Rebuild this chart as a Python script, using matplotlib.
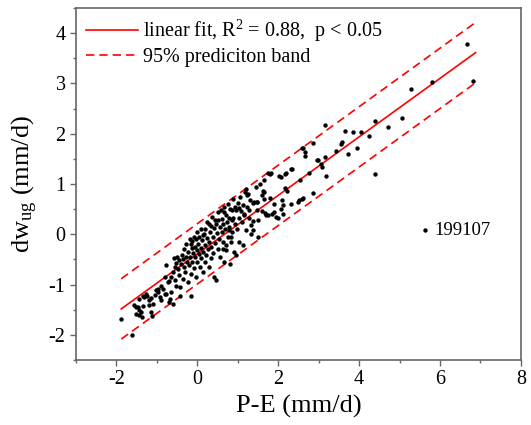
import matplotlib
matplotlib.use("Agg")
import matplotlib.pyplot as plt
from matplotlib.ticker import MultipleLocator
import numpy as np

plt.rcParams['font.family'] = ['Liberation Serif', 'DejaVu Serif']
plt.rcParams['mathtext.fontset'] = 'custom'
plt.rcParams['mathtext.rm'] = 'Liberation Serif'
plt.rcParams['mathtext.it'] = 'Liberation Serif:italic'
plt.rcParams['axes.unicode_minus'] = False

# P-E (mm/d) and dw_ug (mm/d)
pe = [-1.88, -1.62, -1.56, -1.51, -1.51, -1.47, -1.45, -1.43, -1.43, -1.39, -1.37, -1.35,
      -1.35, -1.31, -1.27, -1.25, -1.20, -1.20, -1.14, -1.14, -1.12, -1.10, -1.05, -1.02,
      -0.98, -0.98, -0.92, -0.90, -0.90, -0.86, -0.81, -0.81, -0.77, -0.77, -0.72, -0.69,
      -0.69, -0.67, -0.65, -0.65, -0.61, -0.60, -0.57, -0.56, -0.55, -0.53, -0.52,
      -0.49, -0.47, -0.45, -0.44, -0.43, -0.42, -0.40, -0.38, -0.36, -0.35, -0.33, -0.32,
      -0.30, -0.28, -0.27, -0.25, -0.24, -0.22, -0.20, -0.19, -0.18, -0.16, -0.16, -0.15,
      -0.14, -0.12, -0.12, -0.10, -0.08, -0.07, -0.06, -0.05, -0.03, -0.02, -0.01, 0.00, 0.00,
      0.02, 0.04, 0.05, 0.06, 0.08, 0.09, 0.10, 0.12, 0.13, 0.14, 0.15, 0.17, 0.18, 0.20,
      0.20, 0.22, 0.24, 0.25, 0.26, 0.28, 0.28, 0.30, 0.32, 0.33, 0.34, 0.35, 0.37, 0.38,
      0.40, 0.41, 0.42, 0.44, 0.45, 0.46, 0.46, 0.48, 0.50, 0.50,
      0.52, 0.53, 0.55, 0.57, 0.58, 0.60, 0.61, 0.63, 0.63, 0.63, 0.65, 0.67, 0.67, 0.69,
      0.71, 0.71, 0.71, 0.73, 0.75, 0.76, 0.78, 0.79, 0.79, 0.80, 0.82, 0.83, 0.83, 0.85,
      0.86, 0.87, 0.88, 0.89, 0.90, 0.92, 0.94, 0.96, 0.96, 0.98,
      1.00, 1.02, 1.04, 1.04, 1.06, 1.08, 1.10, 1.12, 1.12, 1.15, 1.16, 1.18, 1.20, 1.20,
      1.22, 1.24, 1.26, 1.28, 1.28, 1.30, 1.33, 1.34, 1.37, 1.37, 1.37, 1.41, 1.44, 1.47,
      1.47, 1.48, 1.49, 1.49,
      1.55, 1.60, 1.60, 1.63, 1.64, 1.65, 1.65, 1.67, 1.70, 1.76, 1.76, 1.80, 1.80, 1.82,
      1.84, 1.90, 1.90, 1.95,
      2.00, 2.02, 2.07, 2.08, 2.09, 2.11, 2.11, 2.17, 2.17, 2.19, 2.21, 2.31, 2.31, 2.35,
      2.50, 2.52, 2.54, 2.58, 2.60, 2.62, 2.62, 2.66, 2.66, 2.75, 2.85, 2.86, 2.97, 2.99,
      3.05, 3.09, 3.16, 3.16, 3.19, 3.42, 3.55, 3.57, 3.65, 3.72, 3.86, 3.96, 4.05, 4.24,
      4.39, 4.39, 4.72, 5.05, 5.28, 5.80, 6.67, 6.81, 5.63]
dw = [-1.68, -2.01, -1.41, -1.58, -1.45, -1.45, -1.50, -1.28, -1.61, -1.55, -1.65, -1.22,
      -1.43, -1.25, -1.18, -1.23, -1.31, -1.41, -1.27, -1.55, -1.63, -1.38, -1.20, -1.10,
      -1.08, -1.15, -1.25, -1.31, -1.02, -1.08, -1.18, -0.85, -0.62, -1.18, -0.95, -0.92,
      -1.35, -1.28, -0.85, -1.14, -1.38, -0.75, -0.48, -0.66, -0.90, -1.02, -0.58,
      -0.45, -0.70, -0.80, -0.52, -1.05, -1.23, -0.60, -0.42, -0.88, -0.50, -0.30, -0.66,
      -0.75, -0.45, -0.20, -0.55, -0.95, -0.35, -0.62, -0.10, -0.45, -1.23, -0.19, -0.78,
      -0.28, -0.13, -0.55, -0.38, -0.68, -0.05, -0.25, -0.45, -0.09, -0.85, -0.32, -0.55, 0.05,
      -0.20, -0.40, -0.05, -0.65, 0.10, -0.28, -0.48, -0.12, -0.02, -0.75, -0.35, 0.01, -0.22,
      0.11, -0.55, -0.42, -0.08, 0.25, -0.30, 0.21, -0.65, -0.15, 0.05, -0.48, 0.16, -0.25,
      0.35, -0.05, -0.38, 0.12, -0.85, 0.28, -0.18, 0.21, -0.90, 0.02, 0.29, -0.30,
      0.45, -0.10, 0.15, -0.45, 0.48, 0.30, 0.05, 0.21, -0.15, -0.29, 0.55, 0.44, -0.55,
      0.10, 0.38, -0.22, -0.31, 0.25, -0.05, 0.60, 0.15, 0.08, 0.33, -0.60, 0.50, -0.05,
      -0.15, 0.28, 0.48, 0.05, 0.70, 0.33, -0.35, 0.20, 0.55, 0.48, -0.42, 0.10,
      0.62, 0.52, 0.32, -0.15, 0.75, 0.47, 0.25, 0.59, -0.22, 0.38, 0.41, 0.85, 0.91, 0.08,
      0.55, 0.78, 0.80, 0.48, 0.32, 0.68, 0.18, 0.01, 0.62, 0.08, 0.26, 0.64, 0.95, 0.64,
      0.49, 0.64, 0.28, -0.05,
      1.00, 0.78, 0.46, 0.86, 0.70, 0.84, 1.08, 0.42, 0.38, 1.21, 0.38, 1.20, 0.72, 1.21,
      0.40, 0.45, 0.60, 0.35,
      0.32, 1.16, 1.14, 0.51, 0.68, 0.59, 0.41, 0.93, 1.20, 1.21, 0.86, 1.29, 0.61, 1.29,
      0.64, 0.68, 1.08, 1.72, 0.71, 0.73, 1.72, 1.63, 1.56, 1.21, 1.82, 0.82, 1.47, 1.47,
      1.39, 1.34, 1.54, 2.17, 1.16, 1.65, 1.79, 1.84, 2.05, 1.59, 2.03, 1.72, 2.03, 1.95,
      2.26, 1.19, 2.13, 2.32, 2.89, 3.02, 3.78, 3.05, 0.08]

# linear fit and 95% prediction band
fit_slope = 0.582
fit_intercept = -0.39
band_halfwidth = 0.60
fit_range = [-1.88, 6.88]

fig = plt.figure(figsize=(5.31, 4.25), dpi=100)
ax = fig.add_axes([0.143, 0.153, 0.838, 0.828])

xs = np.array(fit_range)
yfit = fit_slope * xs + fit_intercept
ax.plot(xs, yfit, '-', color='red', lw=1.2, label=r'linear fit, R$^2$ = 0.88,  p < 0.05')
ax.plot(xs, yfit + band_halfwidth, '--', color='red', lw=1.2, dashes=(5, 3),
        label='95% prediciton band')
ax.plot(xs, yfit - band_halfwidth, '--', color='red', lw=1.2, dashes=(5, 3))
ax.scatter(pe, dw, s=10, color='black', zorder=3, linewidths=0)

ax.text(5.85, 0.08, '199107', fontsize=13.5, va='center', ha='left')

ax.set_xlim(-3, 8)
ax.set_ylim(-2.5, 4.5)
ax.xaxis.set_major_locator(MultipleLocator(2))
ax.xaxis.set_minor_locator(MultipleLocator(1))
ax.yaxis.set_major_locator(MultipleLocator(1))
ax.yaxis.set_minor_locator(MultipleLocator(0.5))
ax.tick_params(which='both', direction='out', color='#666666', labelsize=14.5)
ax.tick_params(which='major', length=4, width=1)
ax.tick_params(which='minor', length=2.5, width=1)
for s in ax.spines.values():
    s.set_color('#666666')
    s.set_linewidth(1.2)

ax.set_xlabel('P-E (mm/d)', fontsize=19, labelpad=4)
ax.set_ylabel(r'dw$_{\mathrm{ug}}$ (mm/d)', fontsize=19, labelpad=6)

ax.legend(loc='upper left', frameon=False, fontsize=14.5, handlelength=2.6,
          handletextpad=0.25, borderaxespad=0.1, labelspacing=0.2,
          bbox_to_anchor=(0.0, 1.0))

fig.savefig('out.png', dpi=100)
